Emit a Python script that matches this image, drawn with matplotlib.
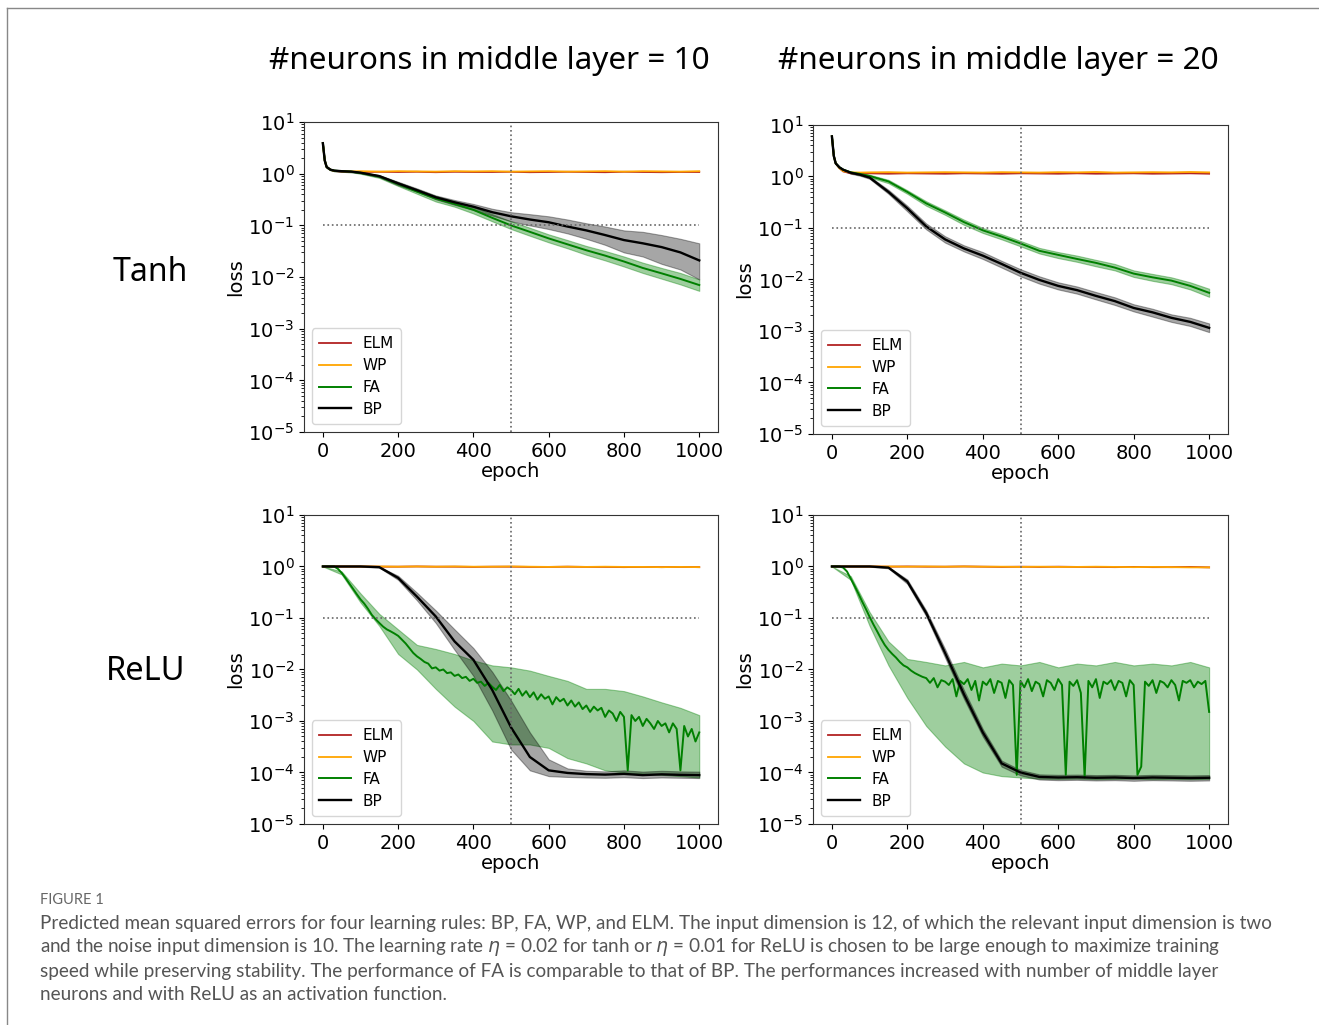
import numpy as np
import matplotlib.pyplot as plt
from matplotlib.lines import Line2D
from matplotlib.ticker import LogLocator, NullFormatter

# --- epochs (x samples) ---
TANH_EPOCH = [0, 5, 10, 20, 30, 50, 75, 100, 150, 200, 250, 300, 350, 400, 450,
              500, 550, 600, 650, 700, 750, 800, 850, 900, 950, 1000]
RELU_EPOCH = list(range(0, 1001, 50))
FINE_EPOCH = list(range(0, 1001, 10))

# --- Tanh, 10 neurons ---
T10_ELM = [3.9, 1.8, 1.35, 1.2, 1.13, 1.1, 1.09, 1.08, 1.09, 1.08, 1.09, 1.07, 1.09,
           1.08, 1.08, 1.09, 1.07, 1.08, 1.09, 1.08, 1.07, 1.09, 1.08, 1.07, 1.08, 1.08]
T10_WP = [3.9, 1.8, 1.35, 1.2, 1.14, 1.12, 1.11, 1.12, 1.1, 1.12, 1.11, 1.1, 1.12,
          1.11, 1.12, 1.1, 1.11, 1.12, 1.1, 1.11, 1.12, 1.1, 1.12, 1.11, 1.1, 1.12]
T10_FA = [3.9, 1.8, 1.35, 1.2, 1.15, 1.12, 1.1, 1.04, 0.88, 0.63, 0.45, 0.33, 0.26,
          0.2, 0.14, 0.1, 0.075, 0.056, 0.043, 0.033, 0.026, 0.02, 0.015, 0.0118, 0.0092, 0.007]
T10_FA_LO = [3.7, 1.7, 1.3, 1.17, 1.12, 1.09, 1.07, 1.0, 0.83, 0.58, 0.41, 0.29, 0.23,
             0.17, 0.12, 0.085, 0.063, 0.047, 0.036, 0.027, 0.021, 0.016, 0.012, 0.0093, 0.0072, 0.0054]
T10_FA_HI = [4.1, 1.9, 1.4, 1.23, 1.18, 1.15, 1.13, 1.08, 0.93, 0.68, 0.5, 0.37, 0.29,
             0.23, 0.165, 0.12, 0.09, 0.067, 0.052, 0.04, 0.032, 0.025, 0.019, 0.015, 0.012, 0.009]
T10_BP = [3.9, 1.8, 1.35, 1.2, 1.15, 1.12, 1.1, 1.05, 0.9, 0.65, 0.48, 0.35, 0.28,
          0.23, 0.18, 0.15, 0.13, 0.115, 0.095, 0.08, 0.065, 0.052, 0.045, 0.038, 0.03, 0.021]
T10_BP_LO = [3.7, 1.7, 1.3, 1.17, 1.12, 1.09, 1.07, 1.02, 0.86, 0.6, 0.45, 0.32, 0.25,
             0.2, 0.155, 0.12, 0.1, 0.085, 0.07, 0.055, 0.042, 0.03, 0.025, 0.018, 0.014, 0.009]
T10_BP_HI = [4.1, 1.9, 1.4, 1.23, 1.18, 1.15, 1.13, 1.08, 0.94, 0.7, 0.52, 0.38, 0.31,
             0.26, 0.21, 0.18, 0.165, 0.15, 0.13, 0.11, 0.095, 0.08, 0.075, 0.065, 0.055, 0.045]

# --- Tanh, 20 neurons ---
T20_ELM = [6.0, 2.5, 1.8, 1.45, 1.25, 1.15, 1.14, 1.15, 1.13, 1.15, 1.14, 1.13, 1.15,
           1.14, 1.13, 1.15, 1.14, 1.13, 1.15, 1.13, 1.14, 1.15, 1.13, 1.14, 1.15, 1.13]
T20_WP = [6.0, 2.5, 1.8, 1.45, 1.27, 1.2, 1.19, 1.2, 1.21, 1.19, 1.2, 1.21, 1.2,
          1.19, 1.21, 1.2, 1.19, 1.21, 1.2, 1.22, 1.19, 1.2, 1.21, 1.2, 1.22, 1.2]
T20_FA = [6.0, 2.5, 1.8, 1.5, 1.35, 1.2, 1.12, 1.02, 0.8, 0.5, 0.3, 0.2, 0.13,
          0.09, 0.068, 0.05, 0.036, 0.03, 0.025, 0.021, 0.017, 0.013, 0.011, 0.0095, 0.0075, 0.0055]
T20_FA_LO = [5.7, 2.4, 1.75, 1.45, 1.3, 1.15, 1.07, 0.96, 0.74, 0.46, 0.27, 0.18, 0.115,
             0.08, 0.06, 0.044, 0.032, 0.026, 0.022, 0.018, 0.015, 0.0112, 0.0094, 0.0081, 0.0064, 0.0046]
T20_FA_HI = [6.3, 2.6, 1.85, 1.55, 1.4, 1.25, 1.17, 1.08, 0.86, 0.54, 0.33, 0.22, 0.145,
             0.1, 0.076, 0.056, 0.041, 0.034, 0.029, 0.024, 0.02, 0.015, 0.0128, 0.011, 0.0088, 0.0066]
T20_BP = [6.0, 2.5, 1.8, 1.5, 1.35, 1.18, 1.08, 0.95, 0.5, 0.24, 0.107, 0.06, 0.04,
          0.029, 0.02, 0.0135, 0.0098, 0.0075, 0.0062, 0.0048, 0.0038, 0.0028, 0.0023, 0.0018, 0.0015, 0.00115]
T20_BP_LO = [5.7, 2.4, 1.75, 1.45, 1.3, 1.13, 1.03, 0.9, 0.46, 0.21, 0.094, 0.052, 0.035,
             0.025, 0.017, 0.0115, 0.0083, 0.0064, 0.0053, 0.0041, 0.0032, 0.0024, 0.0019, 0.0015, 0.00125, 0.00095]
T20_BP_HI = [6.3, 2.6, 1.85, 1.55, 1.4, 1.23, 1.13, 1.0, 0.55, 0.27, 0.122, 0.069, 0.046,
             0.034, 0.023, 0.0158, 0.0115, 0.0088, 0.0073, 0.0057, 0.0045, 0.0033, 0.0027, 0.0021, 0.0018, 0.0014]

# --- ReLU, 10 neurons ---
R10_ELM = [1.0, 1.0, 1.0, 0.99, 0.99, 1.0, 0.99, 0.99, 0.98, 0.99, 0.99, 0.98, 0.98,
           0.99, 0.98, 0.98, 0.97, 0.98, 0.97, 0.98, 0.97]
R10_WP = [1.0, 1.0, 1.0, 1.0, 0.99, 1.0, 0.99, 1.0, 0.99, 0.99, 1.0, 0.99, 0.98,
          0.99, 0.98, 0.99, 0.98, 0.98, 0.97, 0.98, 0.97]
R10_FA = [1.0, 1.0, 1.0, 1.0, 0.9, 0.75, 0.6, 0.47, 0.37, 0.29,
          0.23, 0.19, 0.15, 0.115, 0.095, 0.08, 0.068, 0.06, 0.055, 0.05,
          0.045, 0.038, 0.032, 0.026, 0.021, 0.018, 0.016, 0.014, 0.013, 0.0105,
          0.011, 0.0095, 0.010, 0.0085, 0.0088, 0.0075, 0.0080, 0.0068, 0.0072, 0.0060,
          0.0066, 0.0055, 0.0058, 0.0048, 0.0055, 0.0046, 0.0040, 0.0050, 0.0038, 0.0045,
          0.0040, 0.0033, 0.0042, 0.0031, 0.0038, 0.0029, 0.0036, 0.0026, 0.0033, 0.0027,
          0.0030, 0.0021, 0.0029, 0.0024, 0.0027, 0.0020, 0.0025, 0.0019, 0.0023, 0.0017,
          0.0020, 0.0015, 0.0019, 0.0016, 0.0018, 0.0012, 0.0016, 0.0014, 0.0010, 0.0015,
          0.0012, 0.00011, 0.0013, 0.0010, 0.0012, 0.0008, 0.0011, 0.0009, 0.0007, 0.0010,
          0.0008, 0.0009, 0.0006, 0.0009, 0.0007, 0.00011, 0.0008, 0.0005, 0.0007, 0.0004,
          0.0006]
R10_FA_LO = [1.0, 0.7, 0.2, 0.07, 0.02, 0.01, 0.0042, 0.0019, 0.001, 0.0004, 0.00035,
             0.00035, 0.0003, 0.00019, 0.00015, 0.00011, 0.0001, 9.5e-5, 9e-5, 8.5e-5, 8e-5]
R10_FA_HI = [1.0, 0.8, 0.3, 0.12, 0.06, 0.03, 0.025, 0.02, 0.015, 0.012, 0.011,
             0.0095, 0.0075, 0.006, 0.0042, 0.0042, 0.0038, 0.003, 0.0023, 0.0018, 0.0013]
R10_BP = [1.0, 1.0, 1.0, 0.97, 0.6, 0.26, 0.107, 0.035, 0.0154, 0.004, 0.00075,
          0.0002, 0.00011, 9.8e-5, 9.3e-5, 9.1e-5, 9.4e-5, 8.9e-5, 9.2e-5, 9.0e-5, 8.9e-5]
R10_BP_LO = [1.0, 1.0, 0.99, 0.95, 0.55, 0.22, 0.08, 0.024, 0.0075, 0.0016, 0.00028,
             0.00011, 8.5e-5, 8.2e-5, 8.0e-5, 7.9e-5, 8.1e-5, 7.8e-5, 8.0e-5, 7.9e-5, 7.8e-5]
R10_BP_HI = [1.0, 1.0, 1.0, 0.99, 0.66, 0.31, 0.14, 0.06, 0.026, 0.009, 0.0025,
             0.0006, 0.00018, 0.00012, 0.000108, 0.000105, 0.00011, 0.000104, 0.000108, 0.000105, 0.000104]

# --- ReLU, 20 neurons ---
R20_ELM = [1.0, 1.0, 1.0, 0.99, 1.0, 0.99, 0.99, 1.0, 0.99, 0.98, 0.99, 0.98, 0.99,
           0.98, 0.98, 0.97, 0.98, 0.97, 0.97, 0.98, 0.96]
R20_WP = [1.0, 1.0, 1.0, 1.0, 0.99, 1.0, 0.99, 1.0, 0.99, 0.99, 0.98, 0.99, 0.98,
          0.98, 0.99, 0.98, 0.97, 0.98, 0.97, 0.96, 0.96]
R20_FA = [1.0, 1.0, 1.0, 0.95, 0.8, 0.58, 0.42, 0.3, 0.21, 0.15,
          0.105, 0.075, 0.055, 0.04, 0.03, 0.024, 0.02, 0.017, 0.014, 0.012,
          0.011, 0.0095, 0.0085, 0.0078, 0.0072, 0.0068, 0.0055, 0.0068, 0.0045, 0.0062,
          0.0058, 0.0050, 0.0065, 0.0030, 0.0060, 0.0052, 0.0065, 0.0040, 0.0060, 0.0025,
          0.0058, 0.0050, 0.0065, 0.0035, 0.0060, 0.0055, 0.0028, 0.0062, 0.0050, 0.00009,
          0.0060, 0.0045, 0.0065, 0.0038, 0.0058, 0.0052, 0.0030, 0.0062, 0.0055, 0.0040,
          0.0065, 0.0050, 0.00009, 0.0058, 0.0048, 0.0062, 0.0035, 0.00008, 0.0060, 0.0045,
          0.0065, 0.0028, 0.0058, 0.0052, 0.0062, 0.0040, 0.0060, 0.0055, 0.0030, 0.0062,
          0.0050, 0.00009, 0.00013, 0.0058, 0.0048, 0.0062, 0.0035, 0.0060, 0.0055, 0.0045,
          0.0062, 0.0050, 0.0025, 0.0060, 0.0055, 0.0062, 0.0045, 0.0058, 0.0052, 0.0060,
          0.0015]
R20_FA_LO = [1.0, 0.55, 0.07, 0.012, 0.0028, 0.0008, 0.00032, 0.00015, 0.0001, 8.5e-5,
             8e-5, 7.6e-5, 7.5e-5, 7.6e-5, 7.4e-5, 7.5e-5, 7.6e-5, 7.4e-5, 7.5e-5, 7.4e-5, 7.5e-5]
R20_FA_HI = [1.0, 0.65, 0.13, 0.035, 0.016, 0.014, 0.012, 0.014, 0.011, 0.013, 0.012,
             0.014, 0.011, 0.013, 0.012, 0.014, 0.012, 0.013, 0.012, 0.014, 0.011]
R20_BP = [1.0, 1.0, 1.0, 0.95, 0.51, 0.125, 0.021, 0.0033, 0.0006, 0.00015, 0.0001,
          8.2e-5, 8.0e-5, 8.1e-5, 7.9e-5, 8.0e-5, 7.8e-5, 8.0e-5, 7.9e-5, 7.8e-5, 7.9e-5]
R20_BP_LO = [1.0, 1.0, 0.99, 0.92, 0.46, 0.108, 0.017, 0.0027, 0.0005, 0.00013, 8.8e-5,
             7.3e-5, 7.1e-5, 7.2e-5, 7.0e-5, 7.1e-5, 6.9e-5, 7.1e-5, 7.0e-5, 6.9e-5, 7.0e-5]
R20_BP_HI = [1.0, 1.0, 1.0, 0.98, 0.56, 0.14, 0.025, 0.004, 0.0007, 0.00017, 0.000112,
             9.2e-5, 9.0e-5, 9.1e-5, 8.9e-5, 9.0e-5, 8.8e-5, 9.0e-5, 8.9e-5, 8.8e-5, 8.9e-5]

COL_TITLES = ["#neurons in middle layer = 10", "#neurons in middle layer = 20"]
ROW_TITLES = ["Tanh", "ReLU"]
CAPTION = [
    "Predicted mean squared errors for four learning rules: BP, FA, WP, and ELM. The input dimension is 12, of which the relevant input dimension is two",
    "and the noise input dimension is 10. The learning rate $\\eta$ = 0.02 for tanh or $\\eta$ = 0.01 for ReLU is chosen to be large enough to maximize training",
    "speed while preserving stability. The performance of FA is comparable to that of BP. The performances increased with number of middle layer",
    "neurons and with ReLU as an activation function.",
]

fig = plt.figure(figsize=(13.19, 10.25), dpi=100)


def draw_panel(ax, ep, elm, wp, fa_ep, fa, band_ep, fa_lo, fa_hi, bp, bp_lo, bp_hi):
    ax.plot(ep, elm, color="#b22222", lw=1.3, label="ELM")
    ax.plot(ep, wp, color="orange", lw=1.3, label="WP")
    ax.fill_between(band_ep, fa_lo, fa_hi, color="green", alpha=0.38, lw=0.8)
    ax.plot(fa_ep, fa, color="green", lw=1.4, label="FA")
    ax.fill_between(band_ep, bp_lo, bp_hi, color="black", alpha=0.35, lw=0.8)
    ax.plot(band_ep, bp, color="black", lw=1.7, label="BP")
    ax.axvline(500, color="#666666", ls=":", lw=1.2)
    ax.hlines(0.1, 0, 1000, color="#666666", ls=":", lw=1.2)
    ax.set_yscale("log")
    ax.set_ylim(1e-5, 1e1)
    ax.set_xlim(-50, 1050)
    ax.set_xticks([0, 200, 400, 600, 800, 1000])
    ax.yaxis.set_major_locator(LogLocator(base=10, numticks=10))
    ax.yaxis.set_minor_locator(LogLocator(base=10, subs=np.arange(2, 10), numticks=20))
    ax.yaxis.set_minor_formatter(NullFormatter())
    ax.tick_params(labelsize=14)
    ax.set_xlabel("epoch", fontsize=14, labelpad=1)
    ax.set_ylabel("loss", fontsize=14, labelpad=2)
    for s in ax.spines.values():
        s.set_color("#333333")
    leg = ax.legend(loc="lower left", fontsize=11, handlelength=2.1, borderpad=0.5,
                    labelspacing=0.45, handletextpad=0.7)
    leg.get_frame().set_edgecolor("#cccccc")


# top-left
ax1 = fig.add_axes([0.2305, 0.5785, 0.3139, 0.3024])
draw_panel(ax1, TANH_EPOCH, T10_ELM, T10_WP, TANH_EPOCH, T10_FA, TANH_EPOCH,
           T10_FA_LO, T10_FA_HI, T10_BP, T10_BP_LO, T10_BP_HI)
# top-right
ax2 = fig.add_axes([0.6164, 0.5766, 0.3146, 0.3015])
draw_panel(ax2, TANH_EPOCH, T20_ELM, T20_WP, TANH_EPOCH, T20_FA, TANH_EPOCH,
           T20_FA_LO, T20_FA_HI, T20_BP, T20_BP_LO, T20_BP_HI)
# bottom-left
ax3 = fig.add_axes([0.2305, 0.1961, 0.3139, 0.3015])
draw_panel(ax3, RELU_EPOCH, R10_ELM, R10_WP, FINE_EPOCH, R10_FA, RELU_EPOCH,
           R10_FA_LO, R10_FA_HI, R10_BP, R10_BP_LO, R10_BP_HI)
# bottom-right
ax4 = fig.add_axes([0.6164, 0.1961, 0.3146, 0.3015])
draw_panel(ax4, RELU_EPOCH, R20_ELM, R20_WP, FINE_EPOCH, R20_FA, RELU_EPOCH,
           R20_FA_LO, R20_FA_HI, R20_BP, R20_BP_LO, R20_BP_HI)

# column and row titles
fig.text(0.371, 0.9405, COL_TITLES[0], fontsize=22.7, family="Noto Sans", ha="center", va="center")
fig.text(0.757, 0.9405, COL_TITLES[1], fontsize=22.7, family="Noto Sans", ha="center", va="center")
fig.text(0.1137, 0.7346, ROW_TITLES[0], fontsize=23, family="Noto Sans", ha="center", va="center")
fig.text(0.1107, 0.3444, ROW_TITLES[1], fontsize=23.5, family="Noto Sans", ha="center", va="center")

# caption
fig.text(0.0303, 1 - 900 / 1025, "FIGURE 1", fontsize=10.5, family="Lato", color="#666666", va="center")
for i, line in enumerate(CAPTION):
    fig.text(0.0303, 1 - (923 + 24 * i) / 1025, line, fontsize=13.6, family="Lato",
             color="#555555", va="center")

# page frame (left and top edges)
fig.add_artist(Line2D([7 / 1319, 7 / 1319], [0, 1 - 8 / 1025], transform=fig.transFigure, color="#888888", lw=1))
fig.add_artist(Line2D([7 / 1319, 1], [1 - 8 / 1025, 1 - 8 / 1025], transform=fig.transFigure, color="#888888", lw=1))

fig.savefig("out.png", dpi=100)
